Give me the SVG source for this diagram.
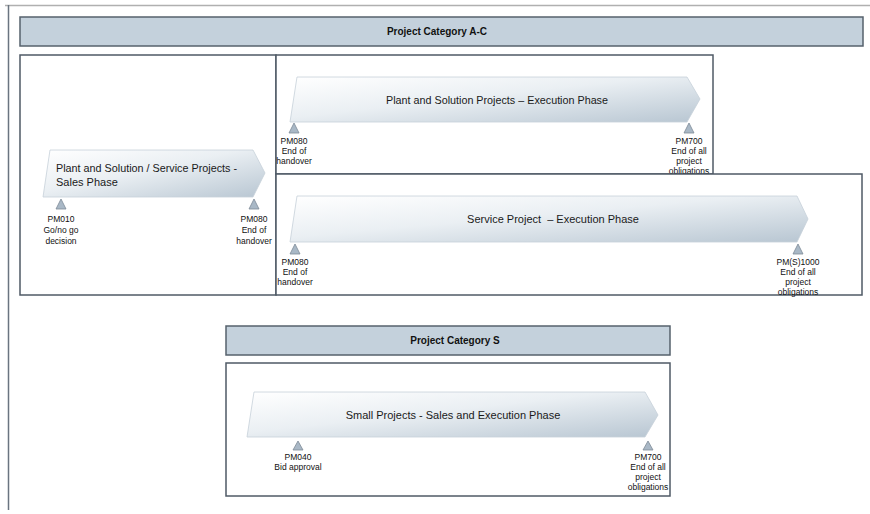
<svg xmlns="http://www.w3.org/2000/svg" width="870" height="514" viewBox="0 0 870 514">
<defs>
<linearGradient id="arrowGrad" x1="0" y1="0" x2="1" y2="1">
<stop offset="0" stop-color="#ffffff"/>
<stop offset="0.45" stop-color="#eaeff3"/>
<stop offset="1" stop-color="#b8c6d2"/>
</linearGradient>
<style>
.frame{fill:#ffffff;stroke:#4f5a66;stroke-width:1.5}
.hdr{fill:#c4d1dc;stroke:#56616c;stroke-width:1.5}
.hdrtxt{font-family:"Liberation Sans",Arial,sans-serif;font-size:10px;font-weight:bold;fill:#111;text-anchor:middle}
.arrow{fill:url(#arrowGrad);stroke:#c6d0d9;stroke-width:0.8}
.ph{font-family:"Liberation Sans",Arial,sans-serif;font-size:11px;fill:#1a1a1a}
.phc{font-family:"Liberation Sans",Arial,sans-serif;font-size:11px;fill:#1a1a1a;text-anchor:middle}
.tri{fill:#a9b8c6;stroke:#7d8a97;stroke-width:0.8}
.ms{font-family:"Liberation Sans",Arial,sans-serif;font-size:8.5px;fill:#111;text-anchor:middle}
</style>
</defs>
<rect width="870" height="514" fill="#ffffff"/>
<g id="page-frame">
<line x1="5" y1="5.5" x2="870" y2="5.5" stroke="#b0b0b0" stroke-width="1.5"/>
<line x1="8.5" y1="5" x2="8.5" y2="510" stroke="#6a7480" stroke-width="1.5"/>
</g>
<g id="header-ac">
<rect class="hdr" x="20" y="17" width="843" height="29"/>
<text class="hdrtxt" x="437" y="35">Project Category A-C</text>
</g>
<g id="box-sales">
<rect class="frame" x="20" y="55" width="256" height="240"/>
<path class="arrow" d="M43,197 L50,150 L253,150 L265,173 L253,197 Z"/>
<text class="ph" x="56" y="172" textLength="181" lengthAdjust="spacingAndGlyphs">Plant and Solution / Service Projects -</text>
<text class="ph" x="56" y="186">Sales Phase</text>
<polygon class="tri" points="56,209 61,199 66,209"/>
<text class="ms" x="61" y="222">PM010</text>
<text class="ms" x="61" y="233">Go/no go</text>
<text class="ms" x="61" y="244">decision</text>
<polygon class="tri" points="249,209 254,199 259,209"/>
<text class="ms" x="254" y="222">PM080</text>
<text class="ms" x="254" y="233">End of</text>
<text class="ms" x="254" y="244">handover</text>
</g>
<g id="box-plant-exec">
<rect class="frame" x="276" y="55" width="437" height="119"/>
<path class="arrow" d="M290,122 L297,77 L687,77 L700,99 L687,122 Z"/>
<text class="phc" x="497" y="104" textLength="222" lengthAdjust="spacingAndGlyphs">Plant and Solution Projects – Execution Phase</text>
<polygon class="tri" points="289,133 294,123 299,133"/>
<text class="ms" x="294" y="144">PM080</text>
<text class="ms" x="294" y="154">End of</text>
<text class="ms" x="294" y="164">handover</text>
<polygon class="tri" points="684,133 689,123 694,133"/>
<text class="ms" x="689" y="144">PM700</text>
<text class="ms" x="689" y="154">End of all</text>
<text class="ms" x="689" y="164">project</text>
<text class="ms" x="689" y="174">obligations</text>
</g>
<g id="box-service-exec">
<rect class="frame" x="276" y="174" width="586" height="121"/>
<path class="arrow" d="M290,242 L297,196 L797,196 L808,219 L797,242 Z"/>
<text class="phc" x="553" y="223">Service Project &#160;– Execution Phase</text>
<polygon class="tri" points="290,254 295,244 300,254"/>
<text class="ms" x="295" y="265">PM080</text>
<text class="ms" x="295" y="275">End of</text>
<text class="ms" x="295" y="285">handover</text>
<polygon class="tri" points="793,254 798,244 803,254"/>
<text class="ms" x="798" y="265">PM(S)1000</text>
<text class="ms" x="798" y="275">End of all</text>
<text class="ms" x="798" y="285">project</text>
<text class="ms" x="798" y="295">obligations</text>
</g>
<g id="header-s">
<rect class="hdr" x="226" y="326" width="444" height="29"/>
<text class="hdrtxt" x="455" y="344">Project Category S</text>
</g>
<g id="box-small">
<rect class="frame" x="226" y="363" width="444" height="133"/>
<path class="arrow" d="M247,437 L254,392 L645,392 L658,415 L645,437 Z"/>
<text class="phc" x="453" y="419">Small Projects - Sales and Execution Phase</text>
<polygon class="tri" points="293,450 298,441 303,450"/>
<text class="ms" x="298" y="460">PM040</text>
<text class="ms" x="298" y="470">Bid approval</text>
<polygon class="tri" points="643,450 648,441 653,450"/>
<text class="ms" x="648" y="460">PM700</text>
<text class="ms" x="648" y="470">End of all</text>
<text class="ms" x="648" y="480">project</text>
<text class="ms" x="648" y="490">obligations</text>
</g>
</svg>
